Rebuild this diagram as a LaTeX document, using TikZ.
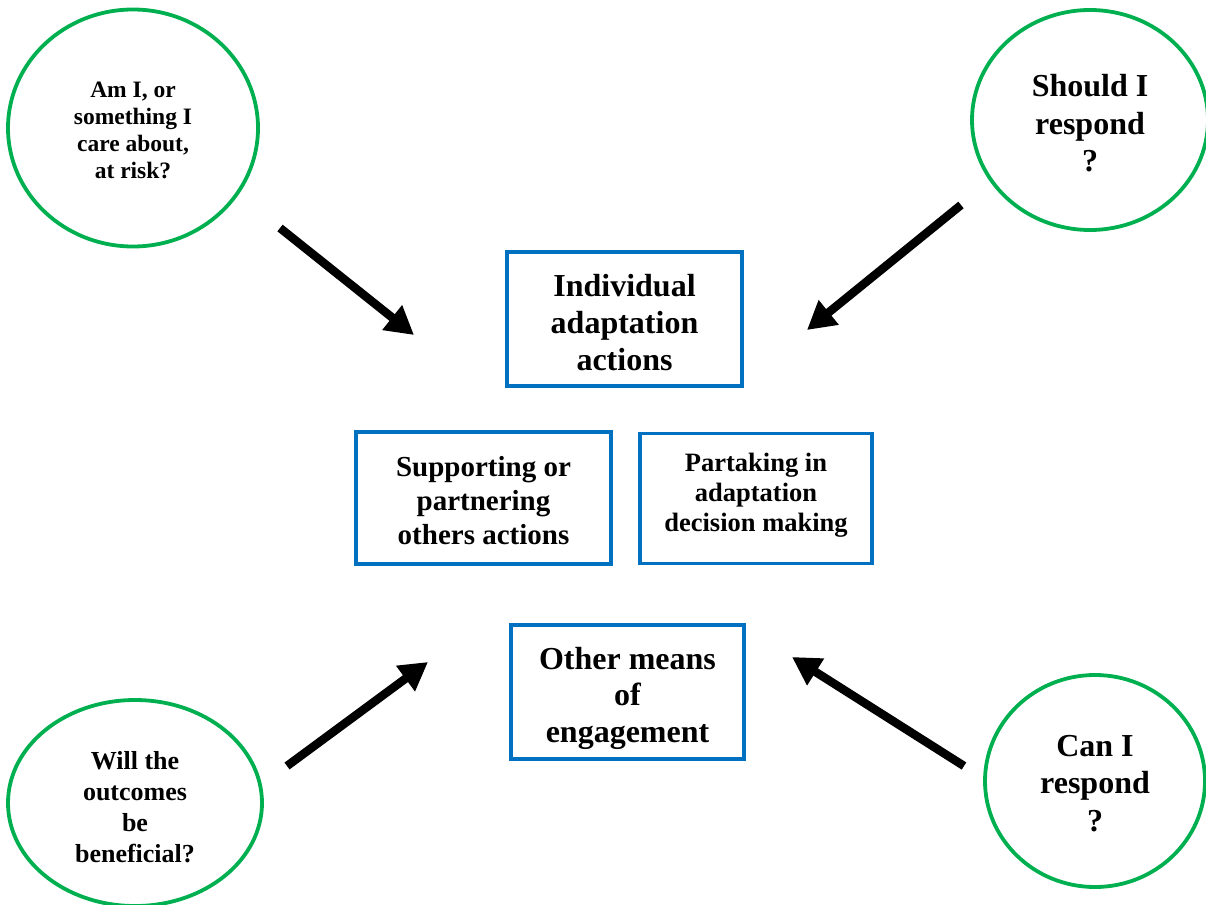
\documentclass[tikz,border=0pt]{standalone}
\usepackage{fontspec}
\setmainfont{Liberation Serif}
\usetikzlibrary{shapes.geometric,arrows.meta}
\definecolor{cgreen}{HTML}{00B050}
\definecolor{cblue}{HTML}{0070C0}
\newcommand{\fsz}[2]{\fontsize{#1}{#2}\selectfont}
\newcommand{\shiftlines}[2]{\raisebox{#1}[\height][\depth]{\begin{tabular}{@{}c@{}}#2\end{tabular}}}
\tikzset{
  question/.style={ellipse, draw=cgreen, line width=3.8pt, inner sep=0pt, align=center},
  actionbox/.style={rectangle, draw=cblue, line width=3.5pt, inner sep=0pt, align=center},
  bigarrow/.style={line width=8.5pt, -{Triangle[length=28pt,width=30pt]}}
}
\begin{document}
\begin{tikzpicture}[x=1pt,y=-1pt]
\useasboundingbox (0,0) rectangle (1206,904);
% circles
\node[question, minimum width=250, minimum height=237, font=\bfseries\fsz{23.5}{27}] (q1) at (133,128)
  {\shiftlines{-5pt}{Am I, or\\ something I\\ care about,\\ at risk?}};
\node[question, minimum width=236, minimum height=220, font=\bfseries\fsz{32}{37.5}] (q2) at (1090,120)
  {\shiftlines{-7pt}{Should I\\ respond\\ ?}};
\node[question, minimum width=254, minimum height=206, font=\bfseries\fsz{26}{31}] (q3) at (135,803)
  {\shiftlines{-7pt}{Will the\\ outcomes\\ be\\ beneficial?}};
\node[question, minimum width=220, minimum height=212, font=\bfseries\fsz{32}{37.5}] (q4) at (1095,781)
  {\shiftlines{-5pt}{Can I\\ respond\\ ?}};
% boxes
\node[actionbox, minimum width=235, minimum height=134, font=\bfseries\fsz{32}{37}] (b1) at (624.5,319)
  {\shiftlines{-7pt}{Individual\\ adaptation\\ actions}};
\node[actionbox, minimum width=255, minimum height=132, font=\bfseries\fsz{29}{34}] (b2) at (483.5,498)
  {\shiftlines{-5.5pt}{Supporting or\\ partnering\\ others actions}};
\node[actionbox, minimum width=232, minimum height=130, font=\bfseries\fsz{26.5}{30}] (b3) at (756,498.5)
  {\shiftlines{3pt}{Partaking in\\ adaptation\\ decision making}};
\node[actionbox, minimum width=233, minimum height=134, font=\bfseries\fsz{32}{36.5}] (b4) at (627.5,692)
  {\shiftlines{-6.5pt}{Other means\\ of\\ engagement}};
% arrow ends
\coordinate (a1s) at (280,228);
\coordinate (a1e) at (414,335);
\coordinate (a2s) at (961,205);
\coordinate (a2e) at (807,330);
\coordinate (a3s) at (287,766);
\coordinate (a3e) at (428,662);
\coordinate (a4s) at (964,766);
\coordinate (a4e) at (792,657);
\draw[bigarrow] (a1s) -- (a1e);
\draw[bigarrow] (a2s) -- (a2e);
\draw[bigarrow] (a3s) -- (a3e);
\draw[bigarrow] (a4s) -- (a4e);
\end{tikzpicture}
\end{document}
